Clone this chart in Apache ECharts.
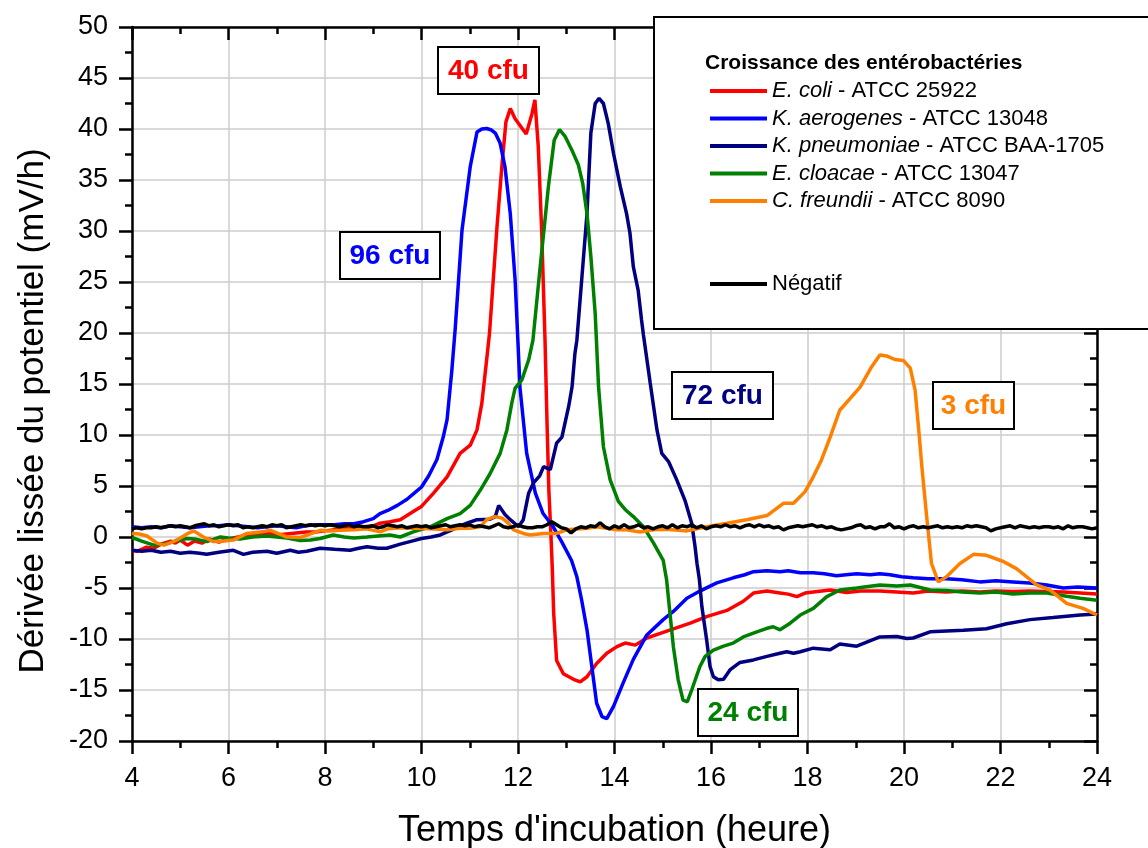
<!DOCTYPE html>
<html>
<head>
<meta charset="utf-8">
<script src="https://cdn.jsdelivr.net/npm/echarts@6/dist/echarts.min.js"></script>
<style>
  html, body { margin: 0; padding: 0; background: #fff; }
  #chart { width: 1148px; height: 848px; }
</style>
</head>
<body>
<div id="chart"></div>
<script>
var FONT = 'Liberation Sans, Arial, sans-serif';

// axes
var xMin = 4, xMax = 24, xStep = 2;
var yMin = -20, yMax = 50, yStep = 5;

// series names
var names = [
  'E. coli - ATCC 25922',
  'K. aerogenes - ATCC 13048',
  'K. pneumoniae - ATCC BAA-1705',
  'E. cloacae - ATCC 13047',
  'C. freundii - ATCC 8090',
  'Négatif'
];
var colors = ['#ff0000', '#0000ff', '#000080', '#008000', '#ff8000', '#000000'];

// [heure, mV/h]
var ecoli = [
  [4.0,-1.3],[4.1,-1.4],[4.2,-1.2],[4.3,-1.0],[4.45,-1.1],[4.6,-0.7],[4.8,-0.4],[4.9,-0.6],
  [5.0,-0.3],[5.15,-0.8],[5.3,-0.4],[5.45,-0.6],[5.6,-0.2],[5.8,-0.5],[6.0,-0.2],[6.2,0.0],
  [6.4,0.2],[6.6,0.3],[6.8,0.4],[7.0,0.2],[7.2,0.3],[7.4,0.4],[7.6,0.5],[7.8,0.5],[8.0,0.6],
  [8.2,0.7],[8.4,0.8],[8.6,0.8],[8.8,1.0],[9.0,1.1],[9.14,1.35],[9.35,1.5],[9.56,1.7],[9.83,2.5],
  [10.0,3.0],[10.25,4.3],[10.53,5.9],[10.8,8.2],[11.01,9.0],[11.15,10.5],[11.25,13.1],[11.35,17.35],
  [11.41,20.0],[11.56,30.1],[11.67,36.6],[11.75,40.7],[11.84,42.0],[11.94,41.0],[12.05,40.3],
  [12.17,39.5],[12.29,41.5],[12.35,42.85],[12.42,38.3],[12.49,30.1],[12.56,19.3],[12.6,11.5],
  [12.64,4.5],[12.68,0.5],[12.71,-3.0],[12.74,-7.5],[12.8,-12.1],[12.94,-13.4],[13.15,-13.95],
  [13.29,-14.2],[13.43,-13.7],[13.63,-12.4],[13.84,-11.4],[14.05,-10.75],[14.22,-10.4],[14.43,-10.6],
  [14.67,-9.9],[14.95,-9.45],[15.22,-9.0],[15.57,-8.45],[15.91,-7.8],[16.33,-7.2],[16.67,-6.3],
  [16.88,-5.5],[17.16,-5.3],[17.43,-5.5],[17.6,-5.6],[17.78,-5.85],[17.95,-5.5],[18.12,-5.4],
  [18.47,-5.2],[18.81,-5.45],[19.1,-5.3],[19.5,-5.3],[19.85,-5.4],[20.19,-5.5],[20.5,-5.3],
  [20.88,-5.4],[21.2,-5.3],[21.57,-5.4],[21.9,-5.3],[22.26,-5.35],[22.6,-5.3],[22.96,-5.35],
  [23.3,-5.4],[23.65,-5.5],[24.0,-5.6]
];
var aerogenes = [
  [4.0,1.0],[4.2,0.9],[4.4,1.0],[4.6,0.9],[4.8,1.1],[5.0,1.0],[5.2,0.9],[5.4,1.0],[5.6,1.1],
  [5.8,1.1],[6.0,1.2],[6.2,1.1],[6.4,1.0],[6.6,0.9],[6.8,1.0],[7.0,1.1],[7.2,1.0],[7.4,0.9],
  [7.6,1.1],[7.8,1.2],[8.0,1.2],[8.2,1.2],[8.4,1.3],[8.6,1.3],[8.8,1.5],[9.0,1.8],[9.14,2.3],
  [9.3,2.6],[9.5,3.1],[9.7,3.7],[9.85,4.3],[10.0,4.9],[10.15,6.0],[10.32,7.6],[10.45,9.8],
  [10.53,11.5],[10.63,16.4],[10.7,20.5],[10.84,30.1],[11.01,36.3],[11.15,39.7],[11.25,40.0],
  [11.35,40.05],[11.45,39.9],[11.53,39.6],[11.63,38.6],[11.73,36.3],[11.84,31.7],[11.94,25.2],
  [12.0,19.0],[12.04,14.7],[12.18,8.2],[12.36,4.3],[12.52,2.3],[12.73,1.0],[12.91,-0.5],
  [13.11,-2.3],[13.22,-3.9],[13.32,-6.2],[13.43,-9.1],[13.53,-12.7],[13.63,-16.3],[13.74,-17.6],
  [13.84,-17.8],[13.98,-16.6],[14.18,-14.3],[14.39,-12.0],[14.67,-9.6],[15.01,-8.1],[15.22,-7.3],
  [15.5,-6.0],[15.77,-5.3],[16.12,-4.5],[16.46,-4.0],[16.7,-3.7],[16.88,-3.4],[17.16,-3.3],
  [17.43,-3.4],[17.6,-3.3],[17.85,-3.5],[18.12,-3.5],[18.35,-3.6],[18.6,-3.8],[18.8,-3.7],
  [19.02,-3.6],[19.3,-3.7],[19.5,-3.6],[19.71,-3.7],[19.95,-3.9],[20.19,-4.0],[20.5,-4.1],
  [20.88,-4.1],[21.2,-4.2],[21.57,-4.4],[21.9,-4.3],[22.26,-4.4],[22.6,-4.5],[22.96,-4.7],
  [23.3,-5.0],[23.6,-4.9],[24.0,-5.0]
];
var pneumoniae = [
  [4.0,-1.3],[4.2,-1.4],[4.4,-1.3],[4.6,-1.5],[4.8,-1.4],[5.0,-1.6],[5.2,-1.5],[5.4,-1.6],
  [5.55,-1.7],[5.8,-1.5],[6.1,-1.3],[6.31,-1.7],[6.5,-1.5],[6.8,-1.4],[7.0,-1.6],[7.28,-1.3],
  [7.45,-1.5],[7.62,-1.4],[7.9,-1.1],[8.2,-1.2],[8.52,-1.3],[8.7,-1.1],[8.87,-0.95],[9.1,-1.1],
  [9.28,-1.1],[9.56,-0.7],[9.8,-0.4],[10.0,-0.15],[10.2,0.0],[10.39,0.2],[10.63,0.7],[10.8,1.1],
  [10.94,1.35],[11.15,1.7],[11.42,1.75],[11.53,2.0],[11.6,3.1],[11.73,2.2],[11.84,1.7],[12.01,1.0],
  [12.11,1.7],[12.22,4.3],[12.32,5.3],[12.45,6.0],[12.53,6.9],[12.67,6.6],[12.8,9.2],[12.91,9.8],
  [13.05,12.8],[13.12,14.7],[13.18,18.0],[13.22,19.3],[13.32,25.2],[13.43,31.7],[13.51,39.6],
  [13.6,42.5],[13.68,43.0],[13.77,42.5],[13.87,40.55],[13.98,37.6],[14.12,34.35],[14.25,31.7],
  [14.32,29.8],[14.39,26.5],[14.49,24.2],[14.56,21.3],[14.6,19.8],[14.74,15.1],[14.88,10.5],
  [14.98,8.2],[15.12,7.4],[15.29,5.6],[15.46,3.6],[15.6,1.35],[15.67,-0.95],[15.71,-2.6],
  [15.76,-4.2],[15.81,-6.8],[15.91,-10.1],[15.98,-12.7],[16.05,-13.7],[16.15,-14.0],[16.26,-13.95],
  [16.4,-13.0],[16.6,-12.3],[16.88,-12.05],[17.16,-11.7],[17.43,-11.4],[17.57,-11.25],[17.71,-11.4],
  [17.85,-11.25],[18.12,-10.9],[18.47,-11.05],[18.67,-10.5],[19.02,-10.7],[19.5,-9.8],[19.85,-9.75],
  [20.06,-9.95],[20.19,-9.9],[20.54,-9.3],[21.23,-9.15],[21.71,-9.0],[22.13,-8.5],[22.61,-8.1],
  [23.09,-7.9],[23.65,-7.65],[24.0,-7.55]
];
var cloacae = [
  [4.0,-0.05],[4.2,-0.4],[4.45,-0.8],[4.72,-0.65],[4.9,-0.4],[5.14,-0.15],[5.3,-0.2],[5.55,-0.45],
  [5.83,0.0],[6.0,-0.1],[6.24,-0.2],[6.5,0.0],[6.8,0.1],[7.0,0.0],[7.21,-0.1],[7.49,-0.35],
  [7.7,-0.3],[7.9,-0.15],[8.17,0.2],[8.4,0.0],[8.6,-0.1],[8.87,0.0],[9.1,0.1],[9.35,0.2],[9.56,0.0],
  [9.83,0.5],[10.18,1.0],[10.53,1.8],[10.8,2.3],[11.01,3.1],[11.22,4.6],[11.42,6.2],[11.63,8.2],
  [11.77,10.5],[11.87,13.1],[11.94,14.6],[12.08,15.4],[12.22,17.35],[12.31,19.3],[12.46,26.5],
  [12.63,34.35],[12.75,38.9],[12.86,39.95],[12.98,39.25],[13.12,37.9],[13.25,36.5],[13.34,34.7],
  [13.43,31.7],[13.51,27.5],[13.6,21.9],[13.67,14.7],[13.77,8.85],[13.91,5.6],[14.08,3.5],
  [14.22,2.7],[14.39,2.0],[14.6,1.0],[14.81,-0.6],[15.01,-2.3],[15.08,-4.2],[15.15,-7.5],
  [15.22,-10.75],[15.32,-14.0],[15.42,-16.0],[15.51,-16.15],[15.6,-15.0],[15.77,-12.7],[15.88,-11.7],
  [16.05,-11.1],[16.26,-10.7],[16.46,-10.4],[16.67,-9.8],[16.95,-9.3],[17.16,-8.95],[17.29,-8.8],
  [17.43,-9.1],[17.64,-8.45],[17.85,-7.65],[18.12,-7.0],[18.4,-5.85],[18.67,-5.2],[19.02,-5.0],
  [19.5,-4.7],[19.85,-4.8],[20.13,-4.7],[20.54,-5.2],[20.88,-5.25],[21.2,-5.4],[21.57,-5.5],
  [21.9,-5.4],[22.26,-5.6],[22.6,-5.5],[22.96,-5.5],[23.37,-5.8],[23.65,-6.0],[24.0,-6.2]
];
var freundii = [
  [4.0,0.35],[4.15,0.3],[4.31,0.1],[4.52,-0.6],[4.66,-0.8],[4.86,-0.45],[5.0,-0.1],[5.14,0.3],
  [5.28,0.6],[5.48,0.0],[5.69,-0.45],[5.9,-0.4],[6.1,-0.3],[6.38,0.35],[6.66,0.5],[6.87,0.65],
  [7.05,0.3],[7.21,0.0],[7.49,-0.05],[7.7,0.3],[7.9,0.65],[8.1,0.6],[8.32,0.65],[8.6,0.7],
  [8.87,0.8],[9.14,0.5],[9.3,0.8],[9.56,0.9],[9.83,0.85],[10.2,0.8],[10.53,0.7],[10.8,0.85],
  [11.0,0.85],[11.22,1.0],[11.35,1.7],[11.53,2.0],[11.67,1.85],[11.8,1.35],[11.91,0.7],[12.11,0.35],
  [12.25,0.2],[12.53,0.35],[12.8,0.35],[13.01,0.7],[13.43,0.85],[13.63,1.0],[14.05,0.7],[14.25,0.7],
  [14.53,0.5],[14.8,0.7],[15.08,0.75],[15.5,0.6],[15.91,1.0],[16.33,1.35],[16.74,1.7],[17.16,2.1],
  [17.5,3.3],[17.71,3.3],[17.95,4.45],[18.12,5.9],[18.29,7.55],[18.47,9.8],[18.67,12.45],
  [18.74,12.8],[19.09,14.7],[19.33,16.7],[19.5,17.85],[19.64,17.75],[19.81,17.4],[19.99,17.3],
  [20.13,16.55],[20.23,14.4],[20.3,10.8],[20.37,6.9],[20.47,2.0],[20.57,-2.6],[20.71,-4.4],
  [20.88,-3.9],[21.16,-2.6],[21.44,-1.7],[21.71,-1.8],[22.06,-2.4],[22.33,-3.1],[22.75,-4.7],
  [23.03,-5.2],[23.37,-6.5],[23.71,-7.0],[24.0,-7.65]
];
var negatif = [
  [4.0,0.8],[4.1,0.9],[4.2,0.8],[4.3,0.9],[4.4,0.9],[4.5,1.0],[4.6,0.9],[4.7,1.0],[4.8,1.1],[4.9,1.0],
  [5.0,1.1],[5.1,1.0],[5.2,0.9],[5.3,1.1],[5.4,1.2],[5.5,1.3],[5.6,1.1],[5.7,1.2],[5.8,1.0],[5.9,1.1],
  [6.0,1.2],[6.1,1.1],[6.2,1.2],[6.3,0.9],[6.4,1.0],[6.5,0.9],[6.6,1.0],[6.7,1.1],[6.8,1.0],[6.9,1.2],
  [7.0,1.1],[7.1,1.2],[7.2,0.9],[7.3,1.0],[7.4,1.1],[7.5,1.2],[7.6,1.1],[7.7,1.2],[7.8,1.1],[7.9,1.2],
  [8.0,1.1],[8.1,1.2],[8.2,1.1],[8.3,1.0],[8.4,1.1],[8.5,1.2],[8.6,1.0],[8.7,1.1],[8.8,1.0],[8.9,1.0],
  [9.0,1.1],[9.1,0.9],[9.2,1.0],[9.3,1.2],[9.4,1.1],[9.5,1.0],[9.6,1.1],[9.7,0.9],[9.8,1.0],[9.9,1.1],
  [10.0,1.0],[10.1,1.1],[10.2,0.9],[10.3,1.0],[10.4,1.1],[10.5,1.2],[10.6,1.0],[10.7,1.1],[10.8,1.2],[10.9,1.1],
  [11.0,1.2],[11.1,1.0],[11.2,1.1],[11.3,1.0],[11.4,0.9],[11.5,1.1],[11.6,1.3],[11.7,1.0],[11.8,0.9],[11.9,1.0],
  [12.0,1.2],[12.1,1.0],[12.2,0.9],[12.3,0.9],[12.4,1.0],[12.5,1.0],[12.6,1.2],[12.7,1.5],[12.8,1.2],[12.9,0.9],
  [13.0,0.8],[13.1,0.4],[13.2,0.8],[13.3,1.0],[13.4,0.9],[13.5,1.1],[13.6,1.0],[13.7,1.4],[13.8,1.0],[13.9,0.8],
  [14.0,1.1],[14.1,0.9],[14.2,1.2],[14.3,0.9],[14.4,1.0],[14.5,1.2],[14.6,0.9],[14.7,1.0],[14.8,0.8],[14.9,1.0],
  [15.0,1.1],[15.1,0.9],[15.2,1.2],[15.3,0.9],[15.4,1.1],[15.5,1.0],[15.6,1.2],[15.7,0.9],[15.8,1.1],[15.9,0.8],
  [16.0,1.0],[16.1,1.1],[16.2,1.0],[16.3,1.2],[16.4,1.0],[16.5,1.1],[16.6,0.9],[16.7,1.1],[16.8,1.2],[16.9,1.0],
  [17.0,1.2],[17.1,1.0],[17.2,1.1],[17.3,0.9],[17.4,1.0],[17.5,0.7],[17.6,0.9],[17.7,1.0],[17.8,1.1],[17.9,1.0],
  [18.0,1.1],[18.1,1.2],[18.2,1.0],[18.3,1.1],[18.4,0.9],[18.5,1.0],[18.6,0.8],[18.7,0.7],[18.8,0.8],[18.9,0.9],
  [19.0,1.1],[19.1,1.2],[19.2,0.9],[19.3,1.0],[19.4,0.8],[19.5,1.0],[19.6,1.0],[19.7,1.3],[19.8,0.9],[19.9,1.0],
  [20.0,0.8],[20.1,1.0],[20.2,1.1],[20.3,0.9],[20.4,1.0],[20.5,0.9],[20.6,1.0],[20.7,1.1],[20.8,0.9],[20.9,1.0],
  [21.0,0.9],[21.1,1.0],[21.2,0.9],[21.3,1.1],[21.4,1.0],[21.5,1.1],[21.6,1.0],[21.7,0.9],[21.8,0.6],[21.9,0.8],
  [22.0,0.9],[22.1,1.0],[22.2,1.1],[22.3,0.9],[22.4,1.1],[22.5,1.0],[22.6,0.9],[22.7,1.0],[22.8,0.9],[22.9,1.0],
  [23.0,1.0],[23.1,0.9],[23.2,1.0],[23.3,0.8],[23.4,1.1],[23.5,0.9],[23.6,1.0],[23.7,1.0],[23.8,0.9],[23.9,0.8],
  [24.0,0.9]
];
var seriesData = [ecoli, aerogenes, pneumoniae, cloacae, freundii, negatif];

// cfu annotations: text, colour, box [x, y, w, h] in px
var cfuLabels = [
  ['40 cfu', '#ff0000', [438, 47, 101, 47]],
  ['96 cfu', '#0000ff', [340, 232, 100, 47]],
  ['72 cfu', '#000080', [672, 372, 101, 47]],
  ['3 cfu', '#ff8000', [933, 382, 81, 47]],
  ['24 cfu', '#008000', [698, 689, 100, 47]]
];

var chart = echarts.init(document.getElementById('chart'));

function axisCommon() {
  return {
    type: 'value',
    axisLine: { show: true, onZero: false, lineStyle: { color: '#000', width: 2.5 } },
    axisTick: { show: true, length: 13, lineStyle: { color: '#000', width: 2.5 } },
    minorTick: { show: true, splitNumber: 2, length: 7, lineStyle: { color: '#000', width: 2.5 } },
    splitLine: { show: false },
    axisLabel: { show: false }
  };
}

var xBottom = axisCommon();
xBottom.position = 'bottom';
xBottom.min = xMin; xBottom.max = xMax; xBottom.interval = xStep;
xBottom.axisLabel = { show: true, fontSize: 27, fontFamily: FONT, color: '#000', margin: 24, showMinLabel: true, showMaxLabel: true };
xBottom.splitLine = { show: true, lineStyle: { color: '#cccccc', width: 1.5 } };
xBottom.name = "Temps d'incubation (heure)";
xBottom.nameLocation = 'middle';
xBottom.nameGap = 72;
xBottom.nameTextStyle = { fontSize: 36, fontFamily: FONT, color: '#000' };

var xTop = axisCommon();
xTop.position = 'top';
xTop.min = xMin; xTop.max = xMax; xTop.interval = xStep;
xTop.axisTick.inside = true;
xTop.minorTick.inside = true;

var yLeft = axisCommon();
yLeft.position = 'left';
yLeft.min = yMin; yLeft.max = yMax; yLeft.interval = yStep;
yLeft.axisLabel = { show: true, fontSize: 27, fontFamily: FONT, color: '#000', margin: 24, showMinLabel: true, showMaxLabel: true };
yLeft.splitLine = { show: true, lineStyle: { color: '#cccccc', width: 1.5 } };

var yRight = axisCommon();
yRight.position = 'right';
yRight.min = yMin; yRight.max = yMax; yRight.interval = yStep;
yRight.axisTick.inside = true;
yRight.minorTick.inside = true;

var series = seriesData.map(function (d, i) {
  return {
    name: names[i],
    type: 'line',
    xAxisIndex: 0,
    yAxisIndex: 0,
    data: d,
    symbol: 'none',
    showSymbol: false,
    smooth: false,
    animation: false,
    lineStyle: { color: colors[i], width: 3.5 },
    itemStyle: { color: colors[i] }
  };
});

var graphics = [
  {
    type: 'rect', z: 100,
    shape: { x: 654, y: 17, width: 520, height: 312 },
    style: { fill: '#fff', stroke: '#000', lineWidth: 2 }
  },
  {
    type: 'text', z: 101, left: 705, top: 53,
    style: { text: 'Croissance des entérobactéries', font: 'bold 21px ' + FONT, fill: '#000' }
  },
  {
    type: 'text', z: 101, x: 33, y: 411, rotation: Math.PI / 2,
    style: {
      text: 'Dérivée lissée du potentiel (mV/h)', font: '35px ' + FONT, fill: '#000',
      align: 'center', verticalAlign: 'middle'
    }
  }
];
cfuLabels.forEach(function (c) {
  var b = c[2];
  graphics.push({
    type: 'rect', z: 100,
    shape: { x: b[0], y: b[1], width: b[2], height: b[3] },
    style: { fill: '#fff', stroke: '#000', lineWidth: 2 }
  });
  graphics.push({
    type: 'text', z: 101, x: b[0] + b[2] / 2, y: b[1] + b[3] / 2 + 1,
    style: {
      text: c[0], font: 'bold 28px ' + FONT, fill: c[1],
      align: 'center', verticalAlign: 'middle'
    }
  });
});

var legendText = {
  fontSize: 22, fontFamily: FONT, color: '#000',
  rich: {
    i: { fontSize: 22, fontFamily: FONT, fontStyle: 'italic', color: '#000' },
    n: { fontSize: 22, fontFamily: FONT, color: '#000' }
  }
};

chart.setOption({
  animation: false,
  backgroundColor: '#fff',
  grid: { left: 132, right: 51, top: 27, bottom: 107, containLabel: false, outerBoundsMode: 'none' },
  xAxis: [xBottom, xTop],
  yAxis: [yLeft, yRight],
  legend: [
    {
      data: names.slice(0, 5),
      orient: 'vertical', left: 705, top: 75, z: 110,
      icon: 'rect', itemWidth: 57, itemHeight: 4, itemGap: 5.5,
      selectedMode: false,
      textStyle: legendText,
      formatter: function (name) {
        var p = name.split(' - ');
        return '{i|' + p[0] + '}{n| - ' + p[1] + '}';
      }
    },
    {
      data: ['Négatif'],
      orient: 'vertical', left: 705, top: 268, z: 110,
      icon: 'rect', itemWidth: 57, itemHeight: 4,
      selectedMode: false,
      textStyle: { fontSize: 22, fontFamily: FONT, color: '#000' }
    }
  ],
  graphic: graphics,
  series: series
});
</script>
</body>
</html>
